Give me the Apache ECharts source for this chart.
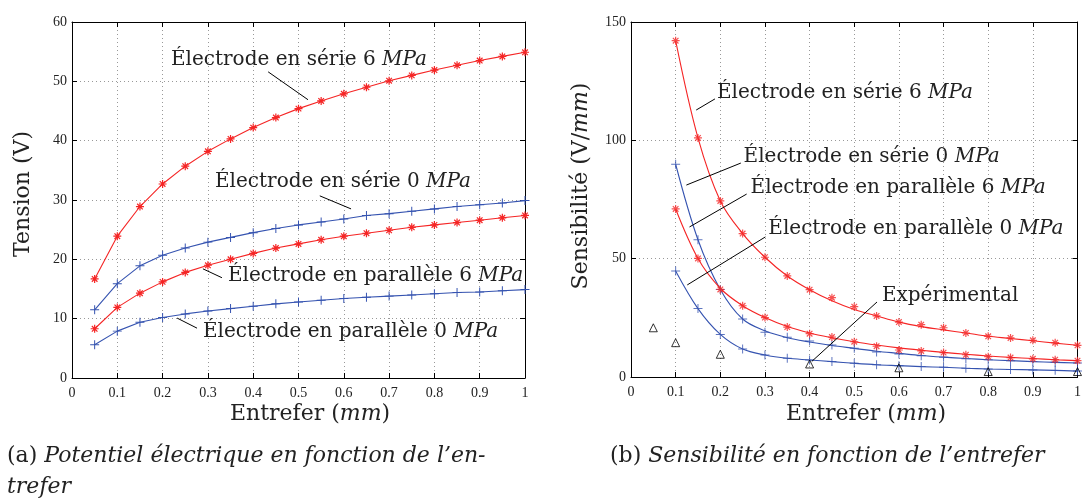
<!DOCTYPE html>
<html><head><meta charset="utf-8">
<script src="https://cdn.jsdelivr.net/npm/echarts@6/dist/echarts.min.js"></script>
<style>html,body{margin:0;padding:0;background:#fff}#c{width:1084px;height:501px}</style>
</head><body><div id="c"></div>
<script>
// ---------- data ----------
const xTension = [0.05,0.1,0.15,0.2,0.25,0.3,0.35,0.4,0.45,0.5,0.55,0.6,0.65,0.7,0.75,0.8,0.85,0.9,0.95,1.0];
const tensionSerie6 = [16.7,23.9,28.9,32.7,35.7,38.2,40.3,42.2,43.9,45.4,46.7,47.9,49.0,50.1,51.0,51.9,52.7,53.5,54.2,54.9];
const tensionSerie0 = [11.5,15.9,18.9,20.7,21.9,22.9,23.7,24.5,25.2,25.8,26.3,26.8,27.4,27.7,28.1,28.5,28.9,29.2,29.5,29.9];
const tensionPara6  = [8.3,11.9,14.3,16.2,17.8,19.0,20.0,21.0,21.9,22.6,23.3,23.9,24.4,24.9,25.4,25.8,26.2,26.6,27.0,27.4];
const tensionPara0  = [5.6,7.9,9.4,10.2,10.8,11.3,11.7,12.1,12.5,12.8,13.1,13.4,13.6,13.8,14.0,14.2,14.4,14.5,14.7,14.9];

const xSens = [0.1,0.15,0.2,0.25,0.3,0.35,0.4,0.45,0.5,0.55,0.6,0.65,0.7,0.75,0.8,0.85,0.9,0.95,1.0];
const sensSerie6Pts = [142.1,101,74.4,60.6,50.6,42.7,36.9,33.5,29.7,25.8,23.2,22.1,20.8,18.6,17.2,16.5,15.5,14.5,13.4];
const sensSerie6Fit = [142.1,101,74.4,60.6,50.6,42.7,36.9,32.2,28.5,25.8,23.2,21.3,19.9,18.6,17.2,16.3,15.3,14.3,13.4];
const sensSerie0Pts = [89.9,58,37,24.5,18.9,16.8,15.2,13.5,12.1,10.6,9.7,9.0,8.3,7.7,7.3,6.9,6.5,6.2,5.9];
const sensSerie0Fit = [89.9,58,37,24.5,19.5,16.6,14.8,13.3,12.1,10.9,10.0,9.1,8.4,7.8,7.3,6.9,6.5,6.2,5.9];
const sensPara6Pts  = [71,50.1,37,30.1,25.1,21.1,18.3,16.9,14.9,13.0,11.4,11.0,10.3,9.4,8.6,8.2,7.7,7.3,6.9];
const sensPara6Fit  = [71,50.1,37.5,30.1,25.1,21.3,18.6,16.6,14.9,13.5,12.3,11.3,10.4,9.6,8.9,8.3,7.8,7.3,6.9];
const sensPara0Pts  = [44.8,28.9,18.0,11.8,9.3,7.9,7.2,6.5,5.8,5.2,4.8,4.4,4.1,3.7,3.4,3.2,3.0,2.8,2.5];
const sensPara0Fit  = [44.8,28.9,18.0,11.8,9.3,7.9,7.2,6.5,5.8,5.2,4.8,4.4,4.1,3.7,3.4,3.2,3.0,2.8,2.5];
const xExp   = [0.05,0.1,0.2,0.4,0.6,0.8,1.0];
const sensExp = [20.8,14.5,9.6,5.5,3.9,2.3,2.3];

const yTicksTension = [0,10,20,30,40,50,60];
const yTicksSens = [0,50,100,150];

// annotation labels: [text, textX, textY, lineX1, lineY1, lineX2, lineY2] in data units
const annotLeft = [
  ['Électrode en série 6 {i|MPa}',       0.2185, 53.6, 0.433, 51.6, 0.521, 46.9],
  ['Électrode en série 0 {i|MPa}',       0.3157, 33.0, 0.547, 30.7, 0.616, 28.5],
  ['Électrode en parallèle 6 {i|MPa}',   0.3444, 17.2, 0.289, 18.4, 0.331, 16.9],
  ['Électrode en parallèle 0 {i|MPa}',   0.2892, 7.75, 0.232, 10.1, 0.276, 8.4]
];
const annotRight = [
  ['Électrode en série 6 {i|MPa}',       0.1925, 120.0, 0.146, 112.8, 0.188, 117.5],
  ['Électrode en série 0 {i|MPa}',       0.2522, 93.0, 0.124, 81.1, 0.246, 90.4],
  ['Électrode en parallèle 6 {i|MPa}',   0.2677, 79.9, 0.131, 63.4, 0.259, 77.3],
  ['Électrode en parallèle 0 {i|MPa}',   0.3075, 62.5, 0.126, 38.9, 0.301, 59.2],
  ['Expérimental',                       0.5619, 34.2, 0.405, 6.6, 0.551, 31.7]
];

// ---------- styles ----------
const RED = '#f52525', BLUE = '#3553b0';
const SERIF = '"DejaVu Serif", serif';
const TICKFONT = '"Liberation Serif", serif';
const STAR = 'path://M-0.15,-1L0.15,-1L0.15,1L-0.15,1Z M-1,-0.15L1,-0.15L1,0.15L-1,0.15Z M-0.594,-0.806L0.806,0.594L0.594,0.806L-0.806,-0.594Z M0.594,-0.806L0.806,-0.594L-0.594,0.806L-0.806,0.594Z';
const PLUS = 'path://M-0.11,-1L0.11,-1L0.11,1L-0.11,1Z M-1,-0.11L1,-0.11L1,0.11L-1,0.11Z';

const zip = (xs, ys) => xs.map((x, i) => [x, ys[i]]);
const xFmt = v => (v === 0 ? '0' : v === 1 ? '1' : v.toFixed(1));

function xAxes(grid) {
  const common = {
    gridIndex: grid, type: 'value', min: 0, max: 1, interval: 0.1,
    axisLine: { show: true, onZero: false, lineStyle: { color: '#000', width: 1 } },
    axisTick: { show: true, inside: true, length: 5, lineStyle: { color: '#000' } }
  };
  return [
    Object.assign({}, common, {
      position: 'bottom',
      axisLabel: { formatter: xFmt, fontFamily: TICKFONT, fontSize: 14, color: '#222', margin: 8 },
      splitLine: { show: true, lineStyle: { type: [1, 3], color: '#999', width: 1 } }
    }),
    Object.assign({}, common, { position: 'top', axisLabel: { show: false }, splitLine: { show: false } })
  ];
}
function yAxes(grid, ticks) {
  const common = {
    gridIndex: grid, type: 'value', min: ticks[0], max: ticks[ticks.length - 1], interval: ticks[1] - ticks[0],
    axisLine: { show: true, onZero: false, lineStyle: { color: '#000', width: 1 } },
    axisTick: { show: true, inside: true, length: 5, lineStyle: { color: '#000' } }
  };
  return [
    Object.assign({}, common, {
      position: 'left',
      axisLabel: { fontFamily: TICKFONT, fontSize: 14, color: '#222', margin: 5 },
      splitLine: { show: true, lineStyle: { type: [1, 3], color: '#999', width: 1 } }
    }),
    Object.assign({}, common, { position: 'right', axisLabel: { show: false }, splitLine: { show: false } })
  ];
}

function lineSeries(xs, ys, xi, yi, color, symbol, size, smooth) {
  return {
    type: 'line', xAxisIndex: xi, yAxisIndex: yi, data: zip(xs, ys),
    smooth: smooth, symbol: symbol || 'none', symbolSize: size || 0, showSymbol: !!symbol,
    lineStyle: { color: color, width: 1.1 }, itemStyle: { color: color },
    z: 3, silent: true
  };
}
function scatterSeries(xs, ys, xi, yi, color, symbol, size, extra) {
  return Object.assign({
    type: 'scatter', xAxisIndex: xi, yAxisIndex: yi, data: zip(xs, ys),
    symbol: symbol, symbolSize: size, itemStyle: { color: color }, z: 4, silent: true
  }, extra || {});
}

const chart = echarts.init(document.getElementById('c'), null, { renderer: 'canvas' });
chart.setOption({
  animation: false,
  backgroundColor: '#fff',
  grid: [
    { left: 72, top: 22, width: 453, height: 356 },
    { left: 631, top: 22, width: 452, height: 355 }
  ],
  xAxis: [].concat(xAxes(0), xAxes(1)),
  yAxis: [].concat(yAxes(0, yTicksTension), yAxes(1, yTicksSens)),
  series: [
    lineSeries(xTension, tensionSerie6, 0, 0, RED, STAR, 8, false),
    lineSeries(xTension, tensionSerie0, 0, 0, BLUE, PLUS, 9, false),
    lineSeries(xTension, tensionPara6, 0, 0, RED, STAR, 8, false),
    lineSeries(xTension, tensionPara0, 0, 0, BLUE, PLUS, 9, false),

    lineSeries(xSens, sensSerie6Fit, 2, 2, RED, null, 0, 0.35),
    lineSeries(xSens, sensSerie0Fit, 2, 2, BLUE, null, 0, 0.35),
    lineSeries(xSens, sensPara6Fit, 2, 2, RED, null, 0, 0.35),
    lineSeries(xSens, sensPara0Fit, 2, 2, BLUE, null, 0, 0.35),
    scatterSeries(xSens, sensSerie6Pts, 2, 2, RED, STAR, 8),
    scatterSeries(xSens, sensSerie0Pts, 2, 2, BLUE, PLUS, 9),
    scatterSeries(xSens, sensPara6Pts, 2, 2, RED, STAR, 8),
    scatterSeries(xSens, sensPara0Pts, 2, 2, BLUE, PLUS, 9),
    scatterSeries(xExp, sensExp, 2, 2, 'rgba(0,0,0,0)', 'triangle', 8,
      { itemStyle: { color: 'rgba(255,255,255,0)', borderColor: '#000', borderWidth: 1 } })
  ]
});

// ---------- annotations & titles ----------
const rich = { i: { fontStyle: 'italic', fontFamily: SERIF, fontSize: 20, color: '#222' } };
const graphics = [];
function addAnnots(list, xi, yi) {
  list.forEach(a => {
    const t = chart.convertToPixel({ xAxisIndex: xi, yAxisIndex: yi }, [a[1], a[2]]);
    const p1 = chart.convertToPixel({ xAxisIndex: xi, yAxisIndex: yi }, [a[3], a[4]]);
    const p2 = chart.convertToPixel({ xAxisIndex: xi, yAxisIndex: yi }, [a[5], a[6]]);
    graphics.push({ type: 'line', shape: { x1: p1[0], y1: p1[1], x2: p2[0], y2: p2[1] },
      style: { stroke: '#000', lineWidth: 1 }, z: 10, silent: true });
    graphics.push({ type: 'text', x: t[0], y: t[1], z: 10, silent: true,
      style: { text: a[0], fontFamily: SERIF, fontSize: 20, fill: '#222',
               align: 'left', verticalAlign: 'middle', rich: rich } });
  });
}
addAnnots(annotLeft, 0, 0);
addAnnots(annotRight, 2, 2);

const richT = { i: { fontStyle: 'italic', fontFamily: SERIF, fontSize: 22, color: '#222' } };
function title(text, x, y, rot, size, extra) {
  graphics.push({ type: 'text', x: x, y: y, rotation: rot || 0, z: 10, silent: true,
    style: Object.assign({ text: text, fontFamily: SERIF, fontSize: size || 22, fill: '#222',
      align: 'center', verticalAlign: 'middle', rich: richT }, extra || {}) });
}
title('Tension (V)', 23, 194, Math.PI / 2);
title('Sensibilité (V/{i|mm})', 581, 186, Math.PI / 2);
title('Entrefer ({i|mm})', 310, 414, 0);
title('Entrefer ({i|mm})', 866, 414, 0);

const richC = { r: { fontStyle: 'normal', fontFamily: SERIF, fontSize: 22, color: '#222' } };
function caption(text, x, y) {
  graphics.push({ type: 'text', x: x, y: y, z: 10, silent: true,
    style: { text: text, fontFamily: SERIF, fontStyle: 'italic', fontSize: 22, fill: '#222',
             align: 'left', verticalAlign: 'middle', rich: richC } });
}
caption('{r|(a)} Potentiel électrique en fonction de l’en-', 7, 456);
caption('trefer', 7, 487);
caption('{r|(b)} Sensibilité en fonction de l’entrefer', 610, 456);

chart.setOption({ graphic: graphics });
</script>
</body></html>
